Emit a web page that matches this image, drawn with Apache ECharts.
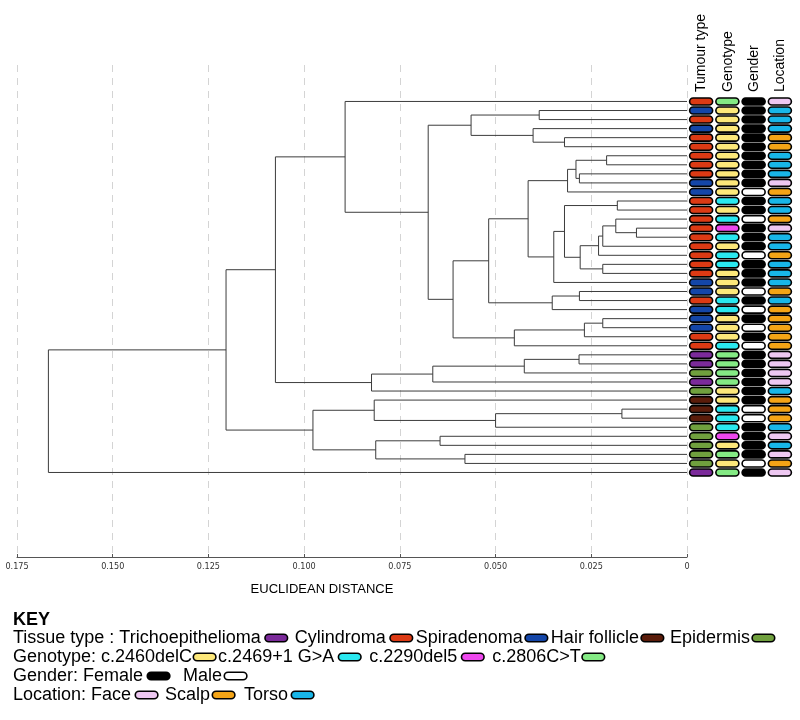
<!DOCTYPE html>
<html>
<head>
<meta charset="utf-8">
<script src="https://cdn.jsdelivr.net/npm/echarts@6/dist/echarts.min.js"></script>
<style>
html,body{margin:0;padding:0;background:#fff;}
#chart{width:800px;height:720px;}
</style>
</head>
<body>
<div id="chart"></div>
<script>
// ---------------- DATA ----------------
// Leaves listed top to bottom (1..42)
var leafTumour   = ['C','S','C','S','C','C','C','C','C','S','S','C','C','C','C','C','C','C','C','C','S','S','C','S','S','S','C','C','T','T','E','T','E','H','H','H','E','E','E','E','E','T'];
var leafGenotype = ['G','Y','Y','Y','Y','Y','Y','Y','Y','Y','Y','A','Y','A','M','A','Y','A','A','Y','Y','Y','A','A','Y','Y','Y','A','G','G','G','G','Y','Y','A','A','A','M','Y','G','Y','G'];
var leafGender   = ['F','F','F','F','F','F','F','F','F','F','M','F','F','M','F','F','F','M','F','F','F','M','F','M','F','M','F','M','F','F','F','F','F','F','M','M','F','F','F','F','M','F'];
var leafLocation = ['Fa','To','To','To','Sc','Sc','To','To','To','Fa','Sc','To','To','Sc','Fa','To','To','Sc','To','To','To','Sc','To','Sc','Sc','Sc','Sc','Sc','Fa','Fa','Fa','Fa','To','Sc','Sc','Sc','To','Fa','To','Fa','Sc','Fa'];

// Merge table (negative = leaf number, positive = earlier merge number), heights = Euclidean distance
var mergeLeft   = [-15,-35,-12,-14,-7,4,-19,-25,6,8,9,-9,-22,-29,5,15,-5,3,18,13,-2,-4,16,14,10,2,23,21,-40,27,-38,24,28,31,-34,32,-1,35,37,39,40];
var mergeRight  = [-16,-36,-13,1,-8,-17,-20,-26,-18,-27,7,-10,-23,-30,12,-11,-6,11,-21,-24,-3,17,19,-31,-28,-37,20,22,-41,25,-39,-32,30,29,26,-33,33,34,36,38,-42];
var mergeHeight = [0.0132,0.0170,0.0182,0.0186,0.0210,0.0220,0.0220,0.0220,0.0231,0.0268,0.0279,0.0281,0.0281,0.0282,0.0290,0.0312,0.0320,0.0320,0.0348,0.0352,0.0386,0.0402,0.0415,0.0425,0.0451,0.0500,0.0518,0.0564,0.0580,0.0611,0.0645,0.0664,0.0676,0.0813,0.0817,0.0824,0.0893,0.0977,0.1075,0.1204,0.1668];

var axisTicks = [0.175,0.150,0.125,0.100,0.075,0.050,0.025,0];
var columnHeaders = ['Tumour type','Genotype','Gender','Location'];

var tumourKeys = ['T','C','S','H','E'];
var tumourNames = ['Trichoepithelioma','Cylindroma','Spiradenoma','Hair follicle','Epidermis'];
var genotypeKeys = ['Y','A','M','G'];
var genotypeNames = ['c.2460delC','c.2469+1 G>A','c.2290del5','c.2806C>T'];
var genderKeys = ['F','M'];
var genderNames = ['Female','Male'];
var locationKeys = ['Fa','Sc','To'];
var locationNames = ['Face','Scalp','Torso'];

// ---------------- STYLE ----------------
var colorMap = {
  tumour:   {T:'#7b2a9a', C:'#dc3a14', S:'#1446a8', H:'#5a1c0a', E:'#70a03e'},
  genotype: {Y:'#fde87a', A:'#2ae8f0', M:'#ee48ee', G:'#84ea84'},
  gender:   {F:'#000000', M:'#ffffff'},
  location: {Fa:'#eec8f2', Sc:'#f4a416', To:'#18b6e8'}
};
var FONT = '"Liberation Sans", Arial, Helvetica, sans-serif';
// gaps (px) before and after each key pill, per key line
var keyGaps = {
  tumour:   [[5, 8], [5, 4], [3, 4], [3, 7], [3, 0]],
  genotype: [[2, 3], [5, 9], [5, 9], [2, 0]],
  gender:   [[5, 14], [3, 0]],
  location: [[5, 8], [3, 10], [4, 0]]
};

// ---------------- BUILD ----------------
var nodeY = [], nodeH = [];
function posOf(ref){
  if (ref < 0) return {y: -ref - 1, h: 0};
  return {y: nodeY[ref - 1], h: nodeH[ref - 1]};
}
var dendroData = [];
for (var i = 0; i < mergeHeight.length; i++) {
  var a = posOf(mergeLeft[i]), b = posOf(mergeRight[i]);
  nodeY.push((a.y + b.y) / 2);
  nodeH.push(mergeHeight[i]);
  dendroData.push([mergeHeight[i], a.y, b.y, a.h, b.h]);
}

var annoData = [], annoColors = [];
var cols = [['tumour', leafTumour], ['genotype', leafGenotype], ['gender', leafGender], ['location', leafLocation]];
cols.forEach(function(c, ci){
  c[1].forEach(function(k, r){
    annoData.push([ci + 0.5, r]);
    annoColors.push(colorMap[c[0]][k]);
  });
});

var yMin = -4.03, yMax = 50.34;

var chart = echarts.init(document.getElementById('chart'), null, {renderer: 'canvas'});

// Key rich text
var rich = {};
function gapTok(w){
  if (!w) return '';
  var nm = 'g' + w;
  rich[nm] = {width: w, height: 4, fontSize: 4};
  return '{' + nm + '| }';
}
function buildLine(prefix, group, keys, names){
  var s = prefix;
  keys.forEach(function(k, i){
    var nm = group + k;
    rich[nm] = {width: 21, height: 6, backgroundColor: colorMap[group][k], borderColor: '#000', borderWidth: 1.6, borderRadius: 4, fontSize: 4, lineHeight: 8};
    var g = keyGaps[group][i];
    s += names[i] + gapTok(g[0]) + '{' + nm + '| }' + gapTok(g[1]);
  });
  return s;
}
var keyLines = [
  buildLine('Tissue type : ', 'tumour', tumourKeys, tumourNames),
  buildLine('Genotype: ', 'genotype', genotypeKeys, genotypeNames),
  buildLine('Gender: ', 'gender', genderKeys, genderNames),
  buildLine('Location: ', 'location', locationKeys, locationNames)
];

var graphics = [];
var headerX = [701, 728, 754, 780];
columnHeaders.forEach(function(t, i){
  graphics.push({type: 'text', x: headerX[i] + 0.5, y: 92, rotation: Math.PI / 2,
    style: {text: t, font: '14px ' + FONT, fill: '#000', textAlign: 'left', textVerticalAlign: 'middle'}});
});
graphics.push({type: 'text', x: 322, y: 589,
  style: {text: 'EUCLIDEAN DISTANCE', font: '13px ' + FONT, fill: '#000', textAlign: 'center', textVerticalAlign: 'middle'}});
graphics.push({type: 'text', x: 13, y: 620,
  style: {text: 'KEY', font: 'bold 18px ' + FONT, fill: '#000', textAlign: 'left', textVerticalAlign: 'middle'}});
keyLines.forEach(function(line, i){
  graphics.push({type: 'text', x: 13, y: 638 + i * 19,
    style: {text: line, font: '18px ' + FONT, fill: '#000', textAlign: 'left', textVerticalAlign: 'middle', rich: rich}});
});

var option = {
  backgroundColor: '#ffffff',
  animation: false,
  grid: [
    {left: 17, right: 113, top: 65, bottom: 163, containLabel: false},
    {left: 688, right: 7, top: 65, bottom: 163, containLabel: false}
  ],
  xAxis: [
    {type: 'value', gridIndex: 0, min: 0, max: 0.175, interval: 0.025, inverse: true,
     axisLine: {show: true, onZero: false, lineStyle: {color: '#555', width: 1}},
     axisTick: {show: true, inside: true, length: 3, lineStyle: {color: '#555'}},
     axisLabel: {fontFamily: '"Liberation Sans Narrow", "DejaVu Sans Condensed", sans-serif', fontSize: 9, color: '#333', margin: 5,
       formatter: function(v){ if (Math.abs(v) < 1e-9) return '0'; var m = axisTicks.filter(function(t){return Math.abs(t - v) < 1e-9;}); return m.length ? m[0].toFixed(3) : ''; }},
     splitLine: {show: true, lineStyle: {color: '#d4d4d4', type: [7, 6], width: 1}}},
    {type: 'value', gridIndex: 1, min: 0, max: 4, show: false}
  ],
  yAxis: [
    {type: 'value', gridIndex: 0, min: yMin, max: yMax, inverse: true, show: false, splitLine: {show: false}},
    {type: 'value', gridIndex: 1, min: yMin, max: yMax, inverse: true, show: false, splitLine: {show: false}}
  ],
  graphic: graphics,
  series: [
    {
      type: 'custom', xAxisIndex: 0, yAxisIndex: 0, clip: false,
      encode: {x: [0, 3, 4], y: [1, 2]},
      data: dendroData,
      renderItem: function(params, api){
        var h = api.value(0), y1 = api.value(1), y2 = api.value(2), h1 = api.value(3), h2 = api.value(4);
        var p1 = api.coord([h1, y1]), p2 = api.coord([h, y1]), p3 = api.coord([h, y2]), p4 = api.coord([h2, y2]);
        return {type: 'polyline', shape: {points: [p1, p2, p3, p4]}, style: {stroke: '#3c3c3c', lineWidth: 1, fill: null}};
      }
    },
    {
      type: 'custom', xAxisIndex: 1, yAxisIndex: 1, clip: false,
      encode: {x: 0, y: 1},
      data: annoData,
      renderItem: function(params, api){
        var c = api.coord([api.value(0), api.value(1)]);
        return {type: 'rect', shape: {x: c[0] - 11.5, y: c[1] - 3.5, width: 23, height: 7, r: 3.5},
          style: {fill: annoColors[params.dataIndex], stroke: '#000', lineWidth: 1.6}};
      }
    }
  ]
};
chart.setOption(option);
</script>
</body>
</html>
